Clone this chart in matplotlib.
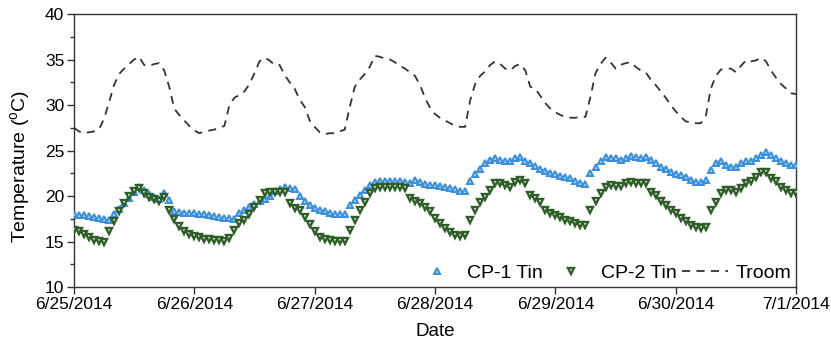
import matplotlib
matplotlib.use("Agg")
import matplotlib.pyplot as plt
import pandas as pd

plt.rcParams['font.family'] = ['Liberation Sans', 'DejaVu Sans']
plt.rcParams['mathtext.fontset'] = 'custom'
plt.rcParams['mathtext.rm'] = 'Liberation Sans'
plt.rcParams['mathtext.it'] = 'Liberation Sans'

start = "2014-06-25 00:00"
n_hours = 145

cp1_tin = [
    18.0, 17.9, 17.9, 17.8, 17.7, 17.6, 17.5, 17.4, 18.0, 18.6, 19.2, 19.8,
    20.4, 21.0, 20.7, 20.2, 19.9, 19.7, 20.3, 19.6, 18.4, 18.2, 18.1, 18.1,
    18.1, 18.0, 18.0, 17.9, 17.8, 17.7, 17.6, 17.6, 17.5, 18.1, 18.5, 18.8,
    19.1, 19.4, 19.7, 20.0, 20.5, 20.8, 21.0, 20.9, 20.8, 20.0, 19.4, 19.0,
    18.7, 18.5, 18.3, 18.1, 18.0, 18.0, 18.0, 19.0, 19.6, 20.1, 20.7, 21.2,
    21.5, 21.6, 21.6, 21.6, 21.6, 21.6, 21.5, 21.4, 21.8, 21.5, 21.3, 21.2,
    21.2, 21.1, 21.0, 20.9, 20.8, 20.6, 20.5, 21.6, 22.4, 23.0, 23.6, 24.0,
    24.2, 24.0, 23.9, 23.9, 24.2, 24.3, 23.8, 23.6, 23.3, 23.0, 22.7, 22.5,
    22.4, 22.2, 22.1, 22.0, 21.7, 21.4, 21.3, 22.5, 23.2, 23.8, 24.3, 24.2,
    24.2, 24.0, 24.2, 24.4, 24.3, 24.2, 24.3, 24.0, 23.6, 23.2, 23.0, 22.6,
    22.4, 22.3, 22.1, 21.8, 21.5, 21.5, 21.8, 22.9, 23.6, 23.8, 23.4, 23.2,
    23.2, 23.6, 23.8, 23.8, 24.2, 24.5, 24.8, 24.5, 24.2, 23.8, 23.6, 23.4,
    23.4,
]

cp2_tin = [
    16.3, 16.1, 15.8, 15.5, 15.2, 15.1, 15.0, 16.2, 17.3, 18.4, 19.2, 20.0,
    20.6, 20.9, 20.3, 19.9, 19.7, 19.5, 19.9, 18.5, 17.5, 16.7, 16.1, 15.8,
    15.6, 15.5, 15.3, 15.3, 15.2, 15.2, 15.1, 15.4, 16.3, 17.0, 17.4, 18.0,
    18.8, 19.6, 20.3, 20.4, 20.4, 20.4, 20.4, 19.2, 18.7, 18.5, 17.7, 16.9,
    16.1, 15.5, 15.3, 15.2, 15.1, 15.1, 15.1, 16.3, 17.4, 18.5, 19.3, 20.3,
    20.9, 21.0, 21.0, 21.0, 21.0, 21.0, 20.9, 19.8, 19.5, 19.2, 18.8, 18.3,
    17.6, 17.0, 16.5, 16.0, 15.7, 15.6, 15.7, 17.4, 18.5, 19.3, 19.9, 20.7,
    21.4, 21.4, 21.2, 21.0, 21.5, 21.8, 21.4, 20.1, 19.8, 19.3, 18.5, 18.1,
    17.9, 17.7, 17.4, 17.2, 17.0, 16.8, 16.8, 18.5, 19.5, 20.3, 21.0, 21.2,
    21.1, 21.1, 21.4, 21.5, 21.4, 21.4, 21.4, 20.4, 20.1, 19.5, 19.0, 18.5,
    18.1, 17.6, 17.2, 16.8, 16.6, 16.5, 16.6, 18.5, 19.3, 20.3, 20.7, 20.7,
    20.4, 20.9, 21.4, 21.6, 22.1, 22.6, 22.6, 22.0, 21.6, 21.0, 20.7, 20.3,
    20.3,
]

troom = [
    27.5, 27.1, 26.9, 27.0, 27.1, 27.3, 28.5, 30.3, 32.2, 33.4, 34.0, 34.5,
    35.0, 35.3, 34.4, 34.3, 34.5, 34.6, 33.8, 32.0, 29.6, 28.9, 28.3, 27.7,
    27.2, 26.9, 27.1, 27.2, 27.3, 27.5, 27.7, 30.0, 30.8, 31.1, 31.5, 32.3,
    33.5, 34.8, 35.2, 34.9, 34.4, 34.4, 33.3, 32.5, 31.8, 30.6, 29.8, 28.3,
    27.6, 27.0, 26.8, 26.9, 26.9, 27.1, 27.3, 29.8, 32.0, 32.8, 33.4, 34.2,
    35.4, 35.3, 35.1, 35.0, 34.7, 34.3, 34.0, 33.6, 33.2, 32.2, 30.8, 29.7,
    29.0, 28.6, 28.3, 28.0, 27.7, 27.6, 27.6, 30.5, 32.3, 33.2, 33.7, 34.4,
    34.8, 34.5, 34.0, 33.8, 34.3, 34.5, 33.8, 32.0, 31.8, 31.0, 30.2, 29.6,
    29.2, 28.9, 28.7, 28.6, 28.6, 28.7, 28.7, 30.9, 33.5, 34.5, 35.2, 34.7,
    34.0, 34.4, 34.6, 34.7, 34.2, 33.8, 33.6, 32.8, 32.2, 31.5, 30.8, 30.0,
    29.3, 28.7, 28.2, 28.1, 28.0, 28.0, 28.8, 31.8, 33.2, 33.9, 34.0, 34.0,
    33.6, 34.3, 34.9, 34.8, 34.9, 35.2, 34.8, 33.8, 33.0, 32.3, 31.8, 31.3,
    31.2,
]

xtick_dates = ["2014-06-25", "2014-06-26", "2014-06-27", "2014-06-28",
               "2014-06-29", "2014-06-30", "2014-07-01"]
xtick_labels = ["6/25/2014", "6/26/2014", "6/27/2014", "6/28/2014",
                "6/29/2014", "6/30/2014", "7/1/2014"]
yticks = [10, 15, 20, 25, 30, 35, 40]

times = pd.date_range(start, periods=n_hours, freq="h")

fig = plt.figure(figsize=(8.31, 3.46), dpi=100)
ax = fig.add_axes([0.089, 0.1705, 0.869, 0.789])

ax.plot(times, cp1_tin, linestyle="none", marker="^", ms=5.0,
        mfc="#9fcdf2", mec="#3a8fd8", mew=1.4, label="CP-1 Tin", zorder=3)
ax.plot(times, cp2_tin, linestyle="none", marker="v", ms=5.0,
        mfc="#ffffff", mec="#2f5e29", mew=1.7, label="CP-2 Tin", zorder=3)
ax.plot(times, troom, color="#333333", lw=1.3, dashes=(4.5, 3.5),
        label="Troom", zorder=2)

ax.set_xlim(pd.Timestamp(xtick_dates[0]), pd.Timestamp(xtick_dates[-1]))
ax.set_ylim(10, 40)
ax.set_xticks([pd.Timestamp(d) for d in xtick_dates])
ax.set_xticklabels(xtick_labels)
ax.set_yticks(yticks)
ax.yaxis.set_minor_locator(matplotlib.ticker.MultipleLocator(2.5))

for s in ax.spines.values():
    s.set_color("#333333")
    s.set_linewidth(1.0)
ax.tick_params(axis="both", which="major", direction="out", length=5,
               width=1.0, color="#333333", labelsize=12.5, pad=2)
ax.tick_params(axis="y", which="minor", direction="out", length=3,
               width=1.0, color="#333333")

ax.set_xlabel("Date", fontsize=13.5, labelpad=8)
ax.set_ylabel("Temperature ($^{\\mathrm{o}}$C)", fontsize=14)
ax.yaxis.set_label_coords(-0.058, 0.443)

ax.legend(loc="lower right", ncol=3, frameon=False, fontsize=14,
          handlelength=2.4, handletextpad=0.36, columnspacing=0.25,
          borderpad=0.15, borderaxespad=0.1, markerscale=0.9)

fig.savefig("out.png", dpi=100)
